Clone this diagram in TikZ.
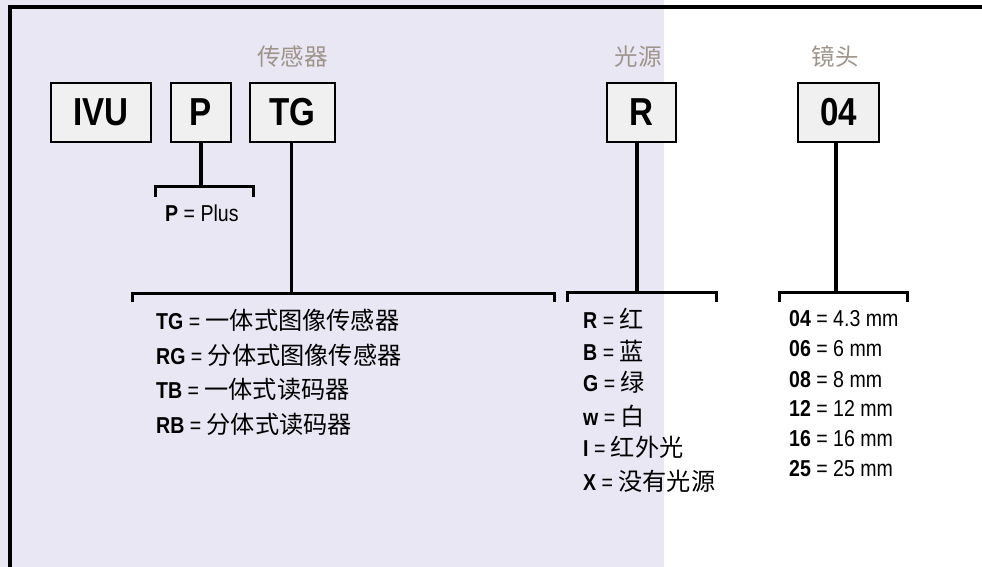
\documentclass[tikz,border=0pt]{standalone}
\usepackage{fontspec}
\setmainfont[FakeStretch=0.85]{Liberation Sans}
\newfontfamily\cjk{Noto Sans CJK SC}
\usetikzlibrary{shapes,arrows}
\definecolor{bgpurple}{RGB}{233,231,243}
\definecolor{boxgray}{RGB}{240,240,240}
\definecolor{headgray}{RGB}{158,148,138}
\tikzstyle{block} = [draw, rectangle, line width=2pt, fill=boxgray, inner sep=0pt, minimum height=59pt, font=\fontsize{39}{39}\selectfont\bfseries]
\tikzstyle{head} = [text=headgray, inner sep=0pt, font=\fontsize{23.5}{23.5}\selectfont\cjk]
\tikzstyle{item} = [anchor=base west, inner sep=0pt, font=\fontsize{23}{23}\selectfont]
\tikzstyle{tmp} = [coordinate]
\tikzstyle{stem} = [line width=3.5pt]
\tikzstyle{brace} = [line width=3pt]
\newcommand{\code}[2]{{\bfseries #1} = {\cjk\fontsize{24.2}{24.2}\selectfont #2}}
\newcommand{\lens}[2]{{\bfseries #1} = #2}

\begin{document}
\begin{tikzpicture}[x=1pt,y=1pt]
            \useasboundingbox (0,0) rectangle (982,-567);
            \fill [bgpurple] (0,0) rectangle (664,-567);
            \draw [line width=3.5pt] (10,-567) -- (10,-7) -- (982,-7);

            % code boxes
            \node [block, minimum width=100pt] (IVU) at (101,-112.5) {IVU};
            \node [block, minimum width=60pt, right of=IVU, node distance=100pt] (P) {P};
            \node [block, minimum width=85pt, right of=P, node distance=91.5pt] (TG) {TG};
            \node [block, minimum width=69pt] (R) at (641.5,-112.5) {R};
            \node [block, minimum width=81pt] (lens) at (838.5,-112.5) {04};

            \node [head, above of=TG, node distance=55.5pt] (sensor) {传感器};
            \node [head, above of=R, node distance=55.5pt, xshift=-3.5pt] (light) {光源};
            \node [head, above of=lens, node distance=55.5pt, xshift=-3.5pt] (optic) {镜头};

            % brackets
            \coordinate (pj) at (201,-186);
            \coordinate (pL) at (155,-197);
            \coordinate (pR) at (253,-197);
            \coordinate (tgj) at (291.5,-293);
            \coordinate (tgL) at (132,-302);
            \coordinate (tgR) at (554,-302);
            \coordinate (rj) at (637,-292);
            \coordinate (rL) at (567,-302);
            \coordinate (rR) at (716,-302);
            \coordinate (lj) at (836,-292);
            \coordinate (lL) at (779,-302);
            \coordinate (lR) at (907,-302);

            \draw [stem] (P.south -| pj) -- (pj);
            \draw [stem] (TG.south -| tgj) -- (tgj);
            \draw [stem] (R.south -| rj) -- (rj);
            \draw [stem] (lens.south -| lj) -- (lj);
            \draw [brace] (pL) |- (pj) -| (pR);
            \draw [brace] (tgL) |- (tgj) -| (tgR);
            \draw [brace] (rL) |- (rj) -| (rR);
            \draw [brace] (lL) |- (lj) -| (lR);

            % entries
            \node [item] (plus) at (165,-221) {{\bfseries P} = Plus};

            \node [item] (tg1) at (156,-329.5) {\code{TG}{一体式图像传感器}};
            \node [item] (tg2) at (156,-364.5) {\code{RG}{分体式图像传感器}};
            \node [item] (tg3) at (156,-398.5) {\code{TB}{一体式读码器}};
            \node [item] (tg4) at (156,-433.5) {\code{RB}{分体式读码器}};

            \node [item] (r1) at (583,-328.5) {\code{R}{红}};
            \node [item] (r2) at (583,-360.5) {\code{B}{蓝}};
            \node [item] (r3) at (583,-391.5) {\code{G}{绿}};
            \node [item] (r4) at (583,-425.5) {\code{w}{白}};
            \node [item] (r5) at (583,-456.5) {\code{I}{红外光}};
            \node [item] (r6) at (583,-490.5) {\code{X}{没有光源}};

            \node [item] (l1) at (789,-326.5) {\lens{04}{4.3 mm}};
            \node [item] (l2) at (789,-356.5) {\lens{06}{6 mm}};
            \node [item] (l3) at (789,-387.5) {\lens{08}{8 mm}};
            \node [item] (l4) at (789,-416.5) {\lens{12}{12 mm}};
            \node [item] (l5) at (789,-446.5) {\lens{16}{16 mm}};
            \node [item] (l6) at (789,-476.5) {\lens{25}{25 mm}};
\end{tikzpicture}
\end{document}
